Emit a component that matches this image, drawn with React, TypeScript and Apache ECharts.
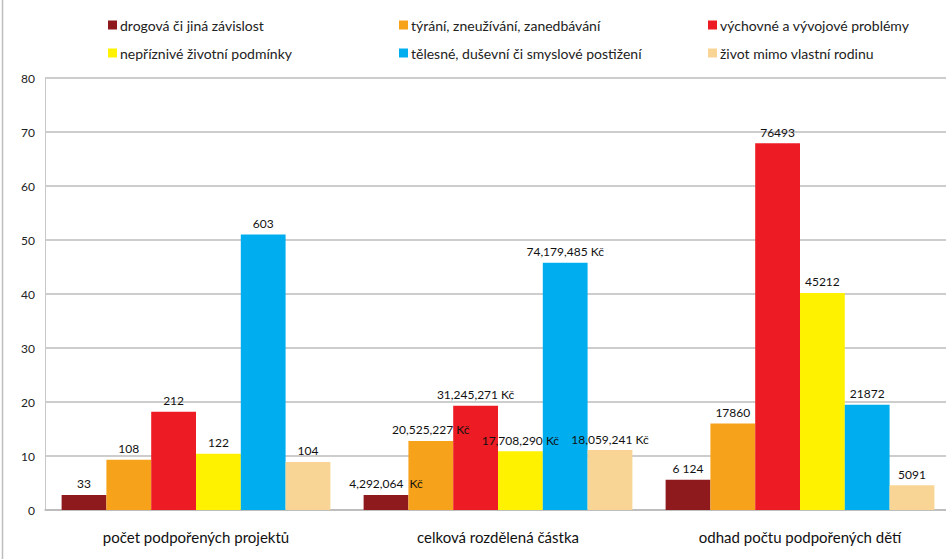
import React, { useEffect, useRef } from "react";
import * as echarts from "echarts";

const categories = ["počet podpořených projektů", "celková rozdělená částka", "odhad počtu podpořených dětí"];
const seriesNames = [
  "drogová či jiná závislost",
  "týrání, zneužívání, zanedbávání",
  "výchovné a vývojové problémy",
  "nepříznivé životní podmínky",
  "tělesné, duševní či smyslové postižení",
  "život mimo vlastní rodinu",
];
const colors = ["#8E1A1D", "#F7A21B", "#ED1C24", "#FFF200", "#00AEEF", "#F8D595"];

const drogValues = [2.8, 2.8, 5.6];
const tyrValues = [9.3, 12.8, 16.0];
const vychValues = [18.2, 19.3, 67.9];
const neprValues = [10.4, 10.9, 40.2];
const telValues = [51.0, 45.8, 19.5];
const zivotValues = [8.9, 11.1, 4.6];

const drogLabels = ["33", "4,292,064  Kč", "6 124"];
const tyrLabels = ["108", "20,525,227 Kč", "17860"];
const vychLabels = ["212", "31,245,271 Kč", "76493"];
const neprLabels = ["122", "17,708,290 Kč", "45212"];
const telLabels = ["603", "74,179,485 Kč", "21872"];
const zivotLabels = ["104", "18,059,241 Kč", "5091"];

const allValues = [drogValues, tyrValues, vychValues, neprValues, telValues, zivotValues];
const allLabels = [drogLabels, tyrLabels, vychLabels, neprLabels, telLabels, zivotLabels];

const yTicks = [0, 10, 20, 30, 40, 50, 60, 70, 80];

const FONT = "Lato";

export default function App() {
  const ref = useRef<HTMLDivElement>(null);
  useEffect(() => {
    document.body.style.margin = "0";
    if (!ref.current) return;
    const chart = echarts.init(ref.current, null, { renderer: "svg" });
    const legendPos = [
      { left: 103, top: 13 },
      { left: 394, top: 13 },
      { left: 703, top: 13 },
      { left: 103, top: 41 },
      { left: 394, top: 41 },
      { left: 703, top: 41 },
    ];
    chart.setOption({
      animation: false,
      backgroundColor: "#ffffff",
      textStyle: { fontFamily: FONT },
      legend: seriesNames.map((n, i) => ({
        data: [n],
        left: legendPos[i].left,
        top: legendPos[i].top,
        icon: "rect",
        itemWidth: 9,
        itemHeight: 9,
        itemGap: 3,
        textStyle: { fontFamily: FONT, fontSize: 14, color: "#222", padding: [0, 0, 0, -2] },
      })),
      grid: { left: 45, top: 78, width: 906, height: 432, containLabel: false, outerBoundsMode: "none" },
      xAxis: {
        type: "category",
        data: categories,
        axisLine: { show: true, lineStyle: { color: "#B8B8B8", width: 1.5 } },
        axisTick: { show: false },
        axisLabel: { fontFamily: FONT, fontSize: 15, color: "#111", margin: 19 },
      },
      yAxis: {
        type: "value",
        min: yTicks[0],
        max: yTicks[yTicks.length - 1],
        interval: 10,
        axisLine: { show: true, lineStyle: { color: "#C8C8C8", width: 1 } },
        axisTick: { show: false },
        axisLabel: { fontFamily: FONT, fontSize: 12, color: "#222", margin: 10 },
        splitLine: { show: true, lineStyle: { color: "#BDBDBD", width: 1.5 } },
      },
      graphic: [
        { type: "line", shape: { x1: 2.5, y1: 0, x2: 2.5, y2: 559 }, style: { stroke: "#BDBDBD", lineWidth: 1.5 } },
      ],
      series: seriesNames.map((n, i) => ({
        name: n,
        type: "bar",
        data: allValues[i],
        itemStyle: { color: colors[i] },
        barGap: "0%",
        barCategoryGap: "11%",
        label: {
          show: true,
          position: "top",
          distance: 5,
          fontFamily: FONT,
          fontSize: 12,
          color: "#111",
          formatter: (p: any) => allLabels[i][p.dataIndex],
        },
      })),
    });
    return () => chart.dispose();
  }, []);
  return <div ref={ref} style={{ width: 946, height: 559 }} />;
}
